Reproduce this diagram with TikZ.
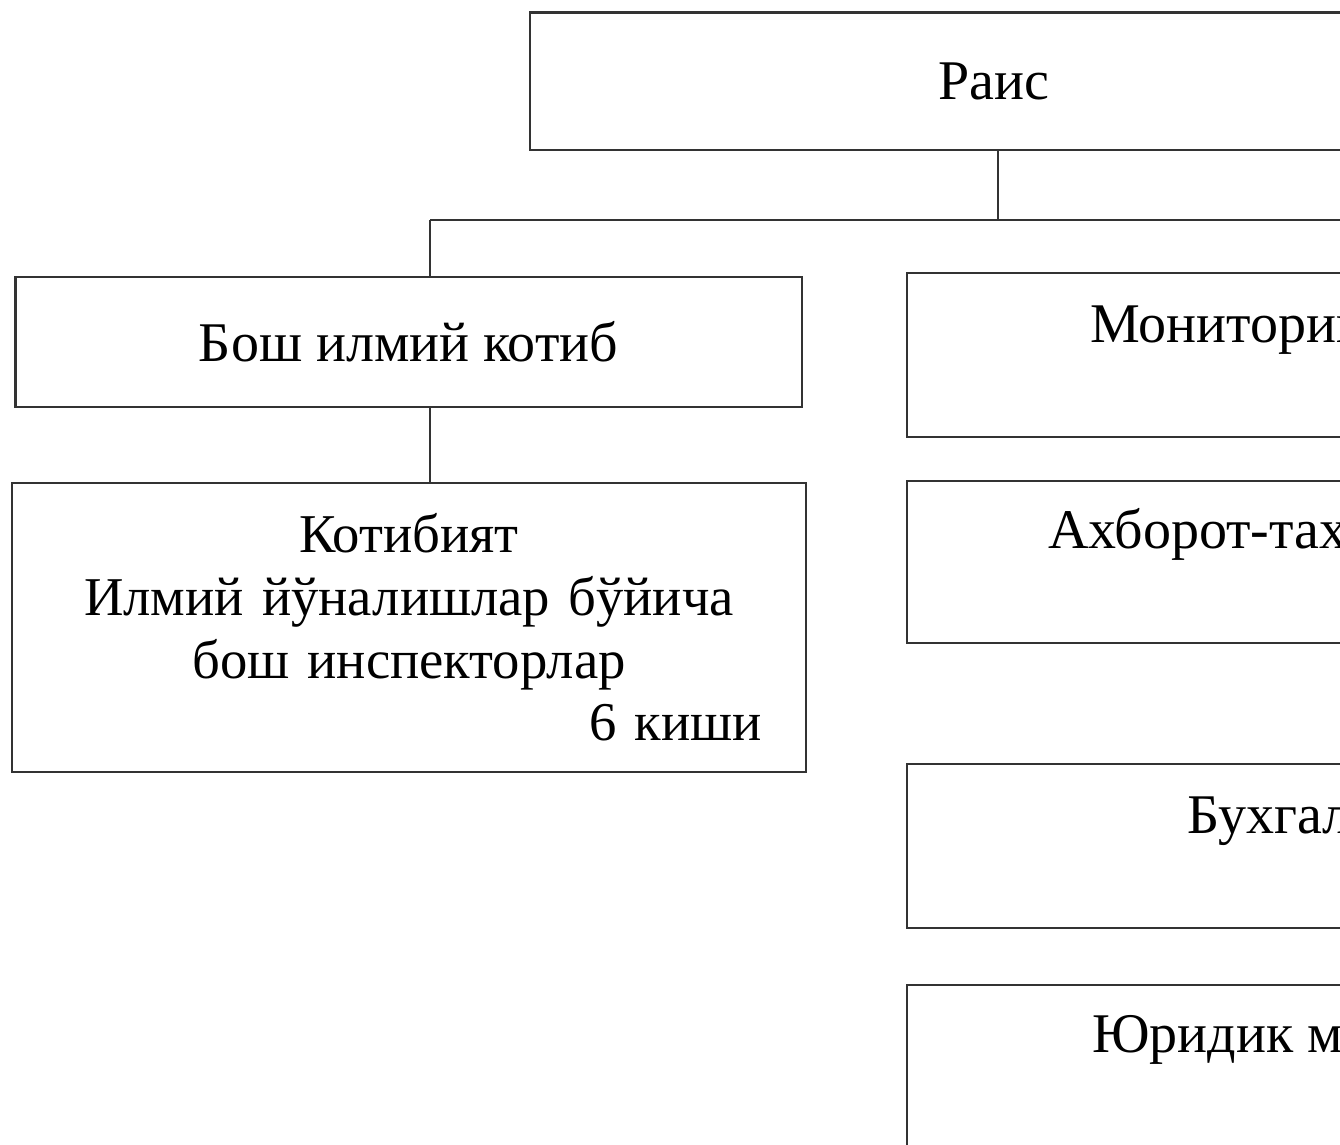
\documentclass[tikz,border=0pt]{standalone}
\usepackage{fontspec}
\setmainfont{Liberation Serif}
\usepackage{tikz}
\usetikzlibrary{positioning}

\begin{document}
\begin{tikzpicture}[x=0.75pt,y=-0.75pt,
		box/.style = {draw=black!80, line width=2pt, inner sep=0pt},
		link/.style = {draw=black!80, line width=2pt},
		lbl/.style = {font=\fontsize{42}{47}\selectfont, inner sep=0pt}]
		\useasboundingbox (0,0) rectangle (1340,1145);
		\clip (0,0) rectangle (1340,1145);
		
		\node[box, minimum width=696pt, minimum height=103pt] (rais) at (994,81.5) {};
		\node[lbl, anchor=base] (rais_t) at (994,100) {Раис};
		
		\node[box, minimum width=590pt, minimum height=97.5pt, font=\fontsize{42}{47}\selectfont] (kotib) at (408.5,342) {Бош илмий котиб};
		\node[box, minimum width=595.5pt, minimum height=216.75pt, text width=529.5pt, align=center, font=\fontsize{41}{47}\selectfont] (kotibiyat) at (409,627.5)
		{Котибият\\ Илмий йўналишлар бўйича\\ бош инспекторлар\\ \hfill 6 киши};
		
		% right column, cut at the edge
		\node[box, minimum width=525pt, minimum height=123pt] (monitor) at (1257,355) {};
		\node[box, minimum width=525pt, minimum height=121.5pt] (axborot) at (1257,562) {};
		\node[box, minimum width=525pt, minimum height=123pt] (buxgal) at (1257,846) {};
		\node[box, minimum width=525pt, minimum height=123pt] (yurid) at (1257,1067) {};
		\node[lbl, anchor=base west] (monitor_t) at (1090,343) {Мониторинг};
		\node[lbl, anchor=base west] (axborot_t) at (1048,548) {Ахборот-тахлил};
		\node[lbl, anchor=base west] (buxgal_t) at (1187,833) {Бухгалтерия};
		\node[lbl, anchor=base west] (yurid_t) at (1092,1052) {Юридик масала};
		
		\coordinate (hub) at (998,220);
		\coordinate (left) at (430,220);
		\coordinate (far) at (1400,220);
		\draw[link] (rais.south -| hub) -- (hub);
		\draw[link] (left) -- (far);
		\draw[link] (left) -- (left |- kotib.north);
		\draw[link] (left |- kotib.south) -- (left |- kotibiyat.north);
		
\end{tikzpicture}
\end{document}
